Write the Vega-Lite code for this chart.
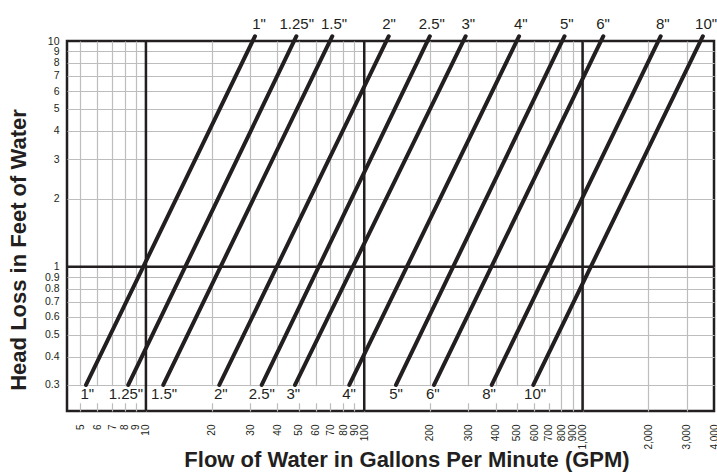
{
  "$schema": "https://vega.github.io/schema/vega-lite/v6.json",
  "width": 647,
  "height": 370,
  "autosize": {"type": "none"},
  "padding": {"left": 67, "top": 41, "right": 3, "bottom": 65},
  "background": "white",
  "config": {
    "font": "Liberation Sans",
    "view": {"stroke": "#231f20", "strokeWidth": 2.5}
  },
  "datasets": {
    "band": [{"x": 4.45, "x2": 740, "y": 0.249, "y2": 0.296}],
    "vrules": [{"x": 10}, {"x": 100}, {"x": 1000}],
    "hrules": [{"y": 1}],
    "lines": [
      {"size": "1\"", "x": 5.316, "y": 0.3}, {"size": "1\"", "x": 31.6, "y": 10.5},
      {"size": "1.25\"", "x": 8.30, "y": 0.3}, {"size": "1.25\"", "x": 48.9, "y": 10.5},
      {"size": "1.5\"", "x": 12.01, "y": 0.3}, {"size": "1.5\"", "x": 71.4, "y": 10.5},
      {"size": "2\"", "x": 21.69, "y": 0.3}, {"size": "2\"", "x": 129.5, "y": 10.5},
      {"size": "2.5\"", "x": 33.92, "y": 0.3}, {"size": "2.5\"", "x": 199.8, "y": 10.5},
      {"size": "3\"", "x": 48.18, "y": 0.3}, {"size": "3\"", "x": 291.5, "y": 10.5},
      {"size": "4\"", "x": 85.44, "y": 0.3}, {"size": "4\"", "x": 512, "y": 10.5},
      {"size": "5\"", "x": 139.8, "y": 0.3}, {"size": "5\"", "x": 827, "y": 10.5},
      {"size": "6\"", "x": 208.8, "y": 0.3}, {"size": "6\"", "x": 1245, "y": 10.5},
      {"size": "8\"", "x": 383.7, "y": 0.3}, {"size": "8\"", "x": 2280, "y": 10.5},
      {"size": "10\"", "x": 595.1, "y": 0.3}, {"size": "10\"", "x": 3558, "y": 10.5}
    ],
    "labels": [
      {"label": "1\"", "x": 32.96, "y": 11.3},
      {"label": "1.25\"", "x": 49.05, "y": 11.3},
      {"label": "1.5\"", "x": 72.7, "y": 11.3},
      {"label": "2\"", "x": 129.9, "y": 11.3},
      {"label": "2.5\"", "x": 203.8, "y": 11.3},
      {"label": "3\"", "x": 299.8, "y": 11.3},
      {"label": "4\"", "x": 521.0, "y": 11.3},
      {"label": "5\"", "x": 846.5, "y": 11.3},
      {"label": "6\"", "x": 1241, "y": 11.3},
      {"label": "8\"", "x": 2330, "y": 11.3},
      {"label": "10\"", "x": 3679, "y": 11.3},
      {"label": "1\"", "x": 5.39, "y": 0.2598},
      {"label": "1.25\"", "x": 8.10, "y": 0.2598},
      {"label": "1.5\"", "x": 12.10, "y": 0.2598},
      {"label": "2\"", "x": 22.01, "y": 0.2598},
      {"label": "2.5\"", "x": 33.92, "y": 0.2598},
      {"label": "3\"", "x": 47.33, "y": 0.2598},
      {"label": "4\"", "x": 85.17, "y": 0.2598},
      {"label": "5\"", "x": 139.8, "y": 0.2598},
      {"label": "6\"", "x": 205.9, "y": 0.2598},
      {"label": "8\"", "x": 372.9, "y": 0.2598},
      {"label": "10\"", "x": 605.8, "y": 0.2598}
    ]
  },
  "layer": [
    {
      "data": {"name": "lines"},
      "mark": {"type": "line", "strokeWidth": 0, "opacity": 0},
      "encoding": {
        "x": {
          "field": "x", "type": "quantitative",
          "scale": {"type": "log", "domain": [4.35, 4000], "nice": false},
          "axis": {
            "title": "Flow of Water in Gallons Per Minute (GPM)",
            "values": [5, 6, 7, 8, 9, 10, 20, 30, 40, 50, 60, 70, 80, 90, 100, 200, 300, 400, 500, 600, 700, 800, 900, 1000, 2000, 3000, 4000],
            "labelExpr": "datum.value >= 1000 ? format(datum.value, ',') : format(datum.value, 'd')",
            "labelAngle": -90,
            "labelFontSize": 10,
            "labelColor": "#231f20",
            "labelPadding": 13,
            "labelOverlap": false,
            "labelBound": false,
            "labelFlush": false,
            "ticks": false,
            "domain": false,
            "grid": true,
            "gridColor": "#bdbdbd",
            "gridWidth": 1.2,
            "gridOpacity": {"condition": {"test": "datum.value >= 4000", "value": 0}, "value": 1},
            "titleFontSize": 22,
            "titleFontWeight": "bold",
            "titleColor": "#231f20",
            "titleX": 339.5,
            "titleY": 55,
            "titleBaseline": "alphabetic",
            "titleAlign": "center"
          }
        },
        "y": {
          "field": "y", "type": "quantitative",
          "scale": {"type": "log", "domain": [0.23, 10], "nice": false},
          "axis": {
            "title": "Head Loss in Feet of Water",
            "values": [0.3, 0.4, 0.5, 0.6, 0.7, 0.8, 0.9, 1, 2, 3, 4, 5, 6, 7, 8, 9, 10],
            "labelExpr": "format(datum.value, '~g')",
            "labelFontSize": 10.5,
            "labelColor": "#231f20",
            "labelPadding": 8,
            "labelOverlap": false,
            "labelBound": false,
            "labelFlush": false,
            "ticks": false,
            "domain": false,
            "grid": true,
            "gridColor": "#bdbdbd",
            "gridWidth": 1.2,
            "gridOpacity": {"condition": {"test": "datum.value >= 10", "value": 0}, "value": 1},
            "titleFontSize": 22,
            "titleFontWeight": "bold",
            "titleColor": "#231f20",
            "titleX": -42,
            "titleY": 208.5,
            "titleBaseline": "alphabetic",
            "titleAlign": "center",
            "titleAngle": -90
          }
        },
        "detail": {"field": "size"}
      }
    },
    {
      "data": {"name": "band"},
      "mark": {"type": "rect", "color": "white"},
      "encoding": {
        "x": {"field": "x", "type": "quantitative", "scale": {"type": "log", "domain": [4.35, 4000], "nice": false}},
        "x2": {"field": "x2"},
        "y": {"field": "y", "type": "quantitative", "scale": {"type": "log", "domain": [0.23, 10], "nice": false}},
        "y2": {"field": "y2"}
      }
    },
    {
      "data": {"name": "vrules"},
      "mark": {"type": "rule", "color": "#231f20", "strokeWidth": 2.5},
      "encoding": {
        "x": {"field": "x", "type": "quantitative", "scale": {"type": "log", "domain": [4.35, 4000], "nice": false}}
      }
    },
    {
      "data": {"name": "hrules"},
      "mark": {"type": "rule", "color": "#231f20", "strokeWidth": 2.5},
      "encoding": {
        "y": {"field": "y", "type": "quantitative", "scale": {"type": "log", "domain": [0.23, 10], "nice": false}}
      }
    },
    {
      "data": {"name": "lines"},
      "mark": {"type": "line", "strokeWidth": 4, "color": "#231f20", "strokeCap": "round"},
      "encoding": {
        "x": {"field": "x", "type": "quantitative", "scale": {"type": "log", "domain": [4.35, 4000], "nice": false}},
        "y": {"field": "y", "type": "quantitative", "scale": {"type": "log", "domain": [0.23, 10], "nice": false}},
        "detail": {"field": "size"}
      }
    },
    {
      "data": {"name": "labels"},
      "mark": {"type": "text", "fontSize": 15, "color": "#231f20", "baseline": "alphabetic", "align": "center"},
      "encoding": {
        "x": {"field": "x", "type": "quantitative", "scale": {"type": "log", "domain": [4.35, 4000], "nice": false}},
        "y": {"field": "y", "type": "quantitative", "scale": {"type": "log", "domain": [0.23, 10], "nice": false}},
        "text": {"field": "label"}
      }
    }
  ]
}
